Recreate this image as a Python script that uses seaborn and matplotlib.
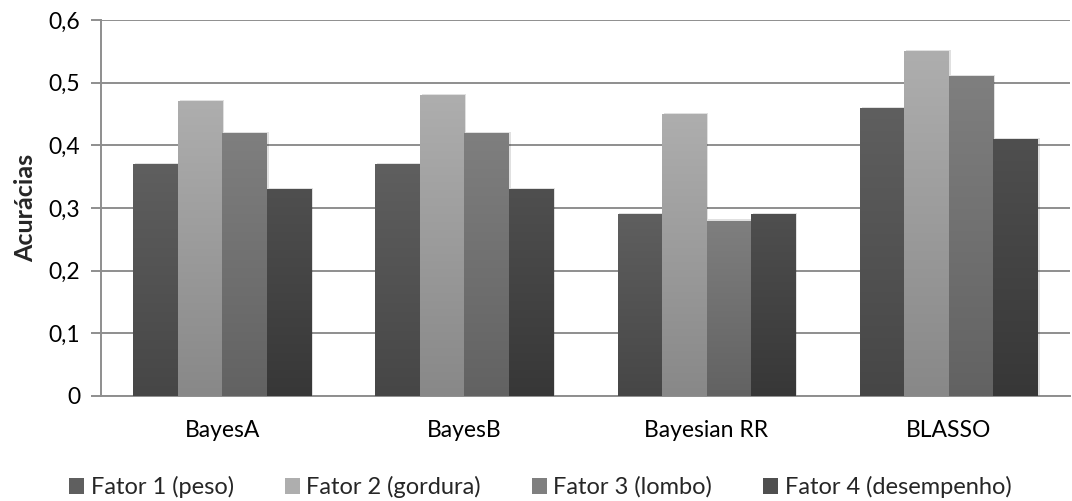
import numpy as np
import pandas as pd
import matplotlib
matplotlib.use("Agg")
import matplotlib.pyplot as plt
import seaborn as sns
from matplotlib.patches import Patch
from matplotlib.colors import LinearSegmentedColormap

metodos = ["BayesA", "BayesB", "Bayesian RR", "BLASSO"]
fatores = ["Fator 1 (peso)", "Fator 2 (gordura)", "Fator 3 (lombo)", "Fator 4 (desempenho)"]
fator1 = [0.37, 0.37, 0.29, 0.46]
fator2 = [0.47, 0.48, 0.45, 0.55]
fator3 = [0.42, 0.42, 0.28, 0.51]
fator4 = [0.33, 0.33, 0.29, 0.41]
yticks = [0, 0.1, 0.2, 0.3, 0.4, 0.5, 0.6]
ytick_labels = ["0", "0,1", "0,2", "0,3", "0,4", "0,5", "0,6"]

# (top colour, bottom colour) of each factor's vertical gradient
gradientes = [("#5f5f5f", "#464646"), ("#aeaeae", "#888888"),
              ("#7f7f7f", "#626262"), ("#4f4f4f", "#373737")]

df = pd.DataFrame({
    "Método": np.repeat(metodos, 4),
    "Fator": fatores * len(metodos),
    "Acurácia": np.array([fator1, fator2, fator3, fator4]).T.ravel(),
})

sns.set_theme(style="white")
plt.rcParams["font.family"] = ["Lato", "DejaVu Sans"]

fig = plt.figure(figsize=(10.72, 5.01), dpi=100)
ax = fig.add_axes([0.0942, 0.2096, 0.9038, 0.7504])

sns.barplot(data=df, x="Método", y="Acurácia", hue="Fator", hue_order=fatores,
            order=metodos, palette=[g[0] for g in gradientes], width=0.735,
            gap=0, saturation=1, errorbar=None, legend=False, ax=ax, zorder=3)

# replace each flat bar with a vertical gradient and a faint drop shadow
for i, cont in enumerate(ax.containers):
    top, bottom = gradientes[i]
    cmap = LinearSegmentedColormap.from_list(f"g{i}", [bottom, top])
    for bar in cont:
        x0, y0 = bar.get_x(), bar.get_y()
        w, h = bar.get_width(), bar.get_height()
        sh = plt.Rectangle((x0 + 0.008, y0), w, h + 0.002, color="black",
                           alpha=0.12, lw=0, zorder=2.5)
        ax.add_patch(sh)
        bar.set_facecolor("none")
        bar.set_edgecolor("none")
        grad = np.linspace(0, 1, 256).reshape(-1, 1)
        im = ax.imshow(grad, cmap=cmap, origin="lower", aspect="auto",
                       extent=[x0, x0 + w, y0, y0 + h], zorder=3)
        im.set_clip_path(bar)
ax.set_xlim(-0.5, len(metodos) - 0.5)
ax.set_ylim(0, 0.6)

ax.set_yticks(yticks)
ax.set_yticklabels(ytick_labels)
ax.yaxis.grid(True, color="#8e8e8e", lw=1.4, zorder=0)
ax.set_axisbelow(True)

for s in ["top", "right"]:
    ax.spines[s].set_visible(False)
for s in ["left", "bottom"]:
    ax.spines[s].set_color("#8e8e8e")
    ax.spines[s].set_linewidth(1.4)

ax.set_xticks(range(len(metodos)))
ax.set_xticklabels(metodos)
ax.set_xticks(np.arange(-0.5, len(metodos), 1), minor=True)
ax.tick_params(axis="x", which="major", length=0, pad=17, labelsize=16.5, colors="black")
ax.tick_params(axis="x", which="minor", length=6, width=1.4, color="#8e8e8e", direction="out")
ax.tick_params(axis="y", length=7, width=1.4, color="#8e8e8e", direction="out",
               left=True, pad=8, labelsize=16.5, labelcolor="black")

ax.set_xlabel("")
ax.set_ylabel("Acurácias", fontsize=18, fontweight="bold", labelpad=8)

handles = [Patch(facecolor=g[0], edgecolor="none", label=f)
           for g, f in zip(gradientes, fatores)]
fig.legend(handles=handles, loc="center", bbox_to_anchor=(0.504, 0.028), ncol=4,
           frameon=False, fontsize=17, handlelength=0.64, handleheight=0.64,
           handletextpad=0.28, columnspacing=2.15)

fig.savefig("out.png", dpi=100)
